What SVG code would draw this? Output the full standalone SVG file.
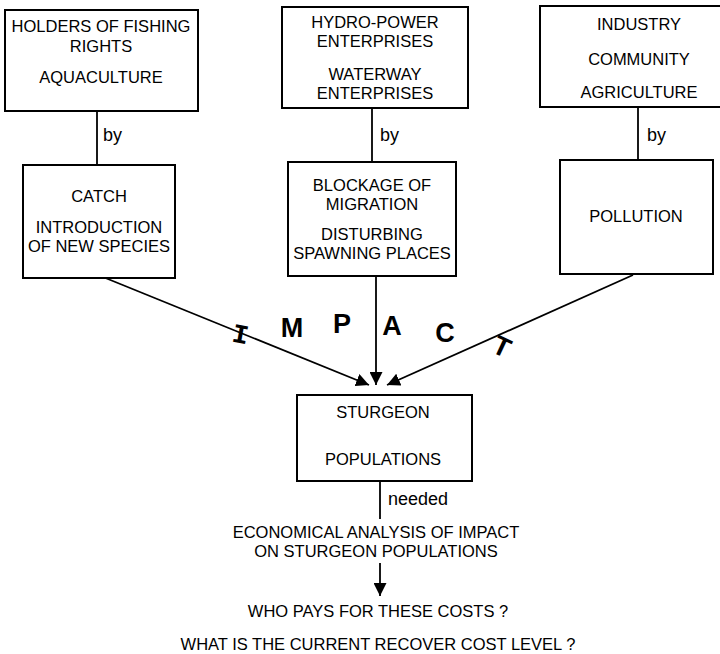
<svg xmlns="http://www.w3.org/2000/svg" width="720" height="654" viewBox="0 0 720 654">
<defs>
<marker id="ah" viewBox="0 0 13 13" refX="13" refY="6.5" markerWidth="13" markerHeight="13" markerUnits="userSpaceOnUse" orient="auto">
<path d="M0,0 L13,6.5 L0,13 Z" fill="#000"/>
</marker>
</defs>
<style>
.box{fill:#fff;stroke:#000;stroke-width:2}
.ln{stroke:#000;stroke-width:1.8;fill:none}
.t{font-family:"Liberation Sans",Arial,sans-serif;font-size:16.5px;fill:#000;text-anchor:middle}
.lb{font-family:"Liberation Sans",Arial,sans-serif;font-size:18px;fill:#000}
.big{font-family:"Liberation Sans",Arial,sans-serif;font-size:27px;font-weight:bold;fill:#000;text-anchor:middle}
.bigm{font-family:"Liberation Mono","Courier New",monospace;font-size:27px;font-weight:bold;fill:#000;text-anchor:middle}
</style>
<rect width="720" height="654" fill="#fff"/>
<g id="connectors">
<line class="ln" x1="97" y1="111" x2="97" y2="165"/>
<line class="ln" x1="372" y1="108" x2="372" y2="162"/>
<line class="ln" x1="638" y1="107" x2="638" y2="160"/>
<line class="ln" x1="103" y1="277" x2="369" y2="385" marker-end="url(#ah)"/>
<line class="ln" x1="376" y1="276" x2="376" y2="385" marker-end="url(#ah)"/>
<line class="ln" x1="633" y1="275" x2="387" y2="385" marker-end="url(#ah)"/>
<line class="ln" x1="380" y1="481" x2="380" y2="519"/>
<line class="ln" x1="380" y1="563" x2="380" y2="596" marker-end="url(#ah)"/>
<text class="lb" x="103" y="141">by</text>
<text class="lb" x="380" y="141">by</text>
<text class="lb" x="647" y="141">by</text>
<text class="lb" x="388" y="505">needed</text>
<g id="impact-label">
<text class="bigm" transform="translate(239,343) rotate(10)">I</text>
<text class="big" x="292" y="337">M</text>
<text class="big" x="342" y="333">P</text>
<text class="big" x="392" y="335">A</text>
<text class="big" x="445" y="342">C</text>
<text class="big" transform="translate(498,355) rotate(25)">T</text>
</g>
</g>
<g id="fishing-holders">
<rect class="box" x="5" y="10" width="193" height="101"/>
<text class="t" x="101" y="32">HOLDERS OF FISHING</text>
<text class="t" x="101" y="52">RIGHTS</text>
<text class="t" x="101" y="83">AQUACULTURE</text>
</g>
<g id="catch">
<rect class="box" x="23" y="165" width="152" height="113"/>
<text class="t" x="99" y="202">CATCH</text>
<text class="t" x="99" y="233">INTRODUCTION</text>
<text class="t" x="99" y="252">OF NEW SPECIES</text>
</g>
<g id="hydro">
<rect class="box" x="282" y="7" width="186" height="101"/>
<text class="t" x="375" y="28">HYDRO-POWER</text>
<text class="t" x="375" y="47">ENTERPRISES</text>
<text class="t" x="375" y="80">WATERWAY</text>
<text class="t" x="375" y="99">ENTERPRISES</text>
</g>
<g id="blockage">
<rect class="box" x="288" y="162" width="168" height="114"/>
<text class="t" x="372" y="191">BLOCKAGE OF</text>
<text class="t" x="372" y="210">MIGRATION</text>
<text class="t" x="372" y="240">DISTURBING</text>
<text class="t" x="372" y="259">SPAWNING PLACES</text>
</g>
<g id="industry">
<rect class="box" x="540" y="6" width="184" height="101"/>
<text class="t" x="639" y="30">INDUSTRY</text>
<text class="t" x="639" y="65">COMMUNITY</text>
<text class="t" x="639" y="98">AGRICULTURE</text>
</g>
<g id="pollution">
<rect class="box" x="560" y="160" width="153" height="114"/>
<text class="t" x="636" y="222">POLLUTION</text>
</g>
<g id="sturgeon">
<rect class="box" x="297" y="395" width="175" height="86"/>
<text class="t" x="383" y="418">STURGEON</text>
<text class="t" x="383" y="465">POPULATIONS</text>
</g>
<g id="analysis">
<text class="t" x="376" y="538">ECONOMICAL ANALYSIS OF IMPACT</text>
<text class="t" x="376" y="557">ON STURGEON POPULATIONS</text>
</g>
<g id="questions">
<text class="t" x="378" y="617">WHO PAYS FOR THESE COSTS ?</text>
<text class="t" x="378" y="650">WHAT IS THE CURRENT RECOVER COST LEVEL ?</text>
</g>
</svg>
